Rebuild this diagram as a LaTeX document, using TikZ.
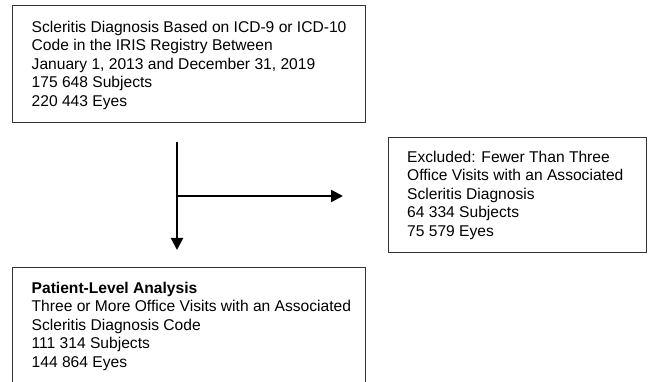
\documentclass[tikz,border=0pt]{standalone}
\usepackage{fontspec}
\setmainfont{Liberation Sans}
\usetikzlibrary{arrows.meta}
\definecolor{boxline}{HTML}{333333}
\begin{document}
\begin{tikzpicture}[x=1pt,y=-1pt,
  boxnode/.style={draw=boxline,line width=1.1pt,anchor=north west,inner sep=0pt},
  txt/.style={anchor=north west,inner sep=0pt,align=left,font=\fontsize{15.6}{18.45}\selectfont,text=black},
  flow/.style={line width=2pt,-{Triangle[length=12pt,width=12pt]}}]
\clip (0,0) rectangle (649,382);
\fill[white] (0,0) rectangle (649,382);
% boxes
\node[boxnode,minimum width=353pt,minimum height=117pt] (top) at (12,5) {};
\node[boxnode,minimum width=258pt,minimum height=115pt] (excl) at (388,137) {};
\node[boxnode,minimum width=353pt,minimum height=140pt] (bot) at (12,267) {};
% texts
\node[txt] (toptext) at (31.5,21.0) {Scleritis Diagnosis Based on ICD-9 or ICD-10\\Code in the IRIS Registry Between\\January 1, 2013 and December 31, 2019\\175 648 Subjects\\220 443 Eyes};
\node[txt] (excltext) at (407,151.0) {Excluded: Fewer Than Three\\Office Visits with an Associated\\Scleritis Diagnosis\\64 334 Subjects\\75 579 Eyes};
\node[txt] (bottext) at (31.5,281.7) {\textbf{Patient-Level Analysis}\\Three or More Office Visits with an Associated\\Scleritis Diagnosis Code\\111 314 Subjects\\144 864 Eyes};
% connectors
\coordinate (s) at (177,142);
\coordinate (j) at (177,196);
\coordinate (e) at (343,196);
\coordinate (d) at (177,250);
\draw[flow] (s) -- (d);
\draw[flow] (j) -- (e);
\end{tikzpicture}
\end{document}
